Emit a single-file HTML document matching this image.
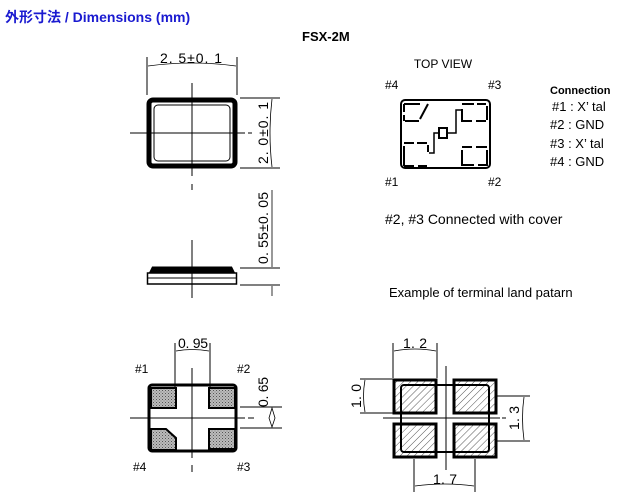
<!DOCTYPE html>
<html><head><meta charset="utf-8"><style>
html,body{margin:0;padding:0;background:#fff;}
svg{display:block;}
text{font-family:"Liberation Sans","Noto Sans CJK JP",sans-serif;fill:#000;}
</style></head><body>
<svg width="636" height="498" viewBox="0 0 636 498" xmlns="http://www.w3.org/2000/svg">
<defs>
<pattern id="dots" width="3" height="3" patternUnits="userSpaceOnUse"><rect width="3" height="3" fill="#bbb"/><rect width="1" height="1" fill="#555"/><rect x="1.5" y="1.5" width="1" height="1" fill="#777"/></pattern>
<pattern id="hatch" width="5" height="5" patternUnits="userSpaceOnUse" patternTransform="rotate(45)"><rect width="5" height="5" fill="#fff"/><line x1="0" y1="0" x2="0" y2="5" stroke="#555" stroke-width="1"/></pattern>
</defs>
<text x="5" y="22" font-size="14" font-weight="bold" style="fill:#1a1ad0">外形寸法 / Dimensions (mm)</text>
<text x="302" y="41" font-size="13" font-weight="bold">FSX-2M</text>

<g stroke="#000" fill="none">
<rect x="149" y="100" width="86" height="66" rx="4" stroke-width="5"/>
<rect x="154" y="105" width="76" height="56" rx="4" stroke-width="1"/>
<line x1="192" y1="83" x2="192" y2="176" stroke-width="1"/>
<line x1="192" y1="184" x2="192" y2="190"/>
<line x1="130" y1="133" x2="245" y2="133"/>
<line x1="248" y1="133" x2="252" y2="133"/>
<line x1="147" y1="57" x2="147" y2="95"/>
<line x1="237" y1="57" x2="237" y2="95"/>
<path d="M148 66 Q192 60 236 66" stroke-width="0.8"/>
<line x1="240" y1="98" x2="280" y2="98"/>
<line x1="240" y1="168" x2="280" y2="168"/>
<path d="M272 99 Q268 133 272 167" stroke-width="0.8"/>
<path d="M151 272 L153 268 L231 268 L233 272 Z" stroke-width="3" fill="#000"/>
<rect x="147.5" y="273" width="89" height="11" stroke-width="1.5"/>
<line x1="148" y1="278" x2="236" y2="278"/>
<line x1="192" y1="240" x2="192" y2="298"/>
<line x1="240" y1="268" x2="280" y2="268"/>
<line x1="240" y1="285" x2="280" y2="285"/>
<path d="M272 190 L272 267 M272 286 L272 296" stroke-width="0.8"/>
</g>
<text x="160" y="63" font-size="14" textLength="62">2. 5±0. 1</text>
<text transform="translate(268,133) rotate(-90)" font-size="14" text-anchor="middle" textLength="62">2. 0±0. 1</text>
<text transform="translate(268,228) rotate(-90)" font-size="14" text-anchor="middle" textLength="72">0. 55±0. 05</text>

<text x="443" y="68" font-size="12" text-anchor="middle">TOP VIEW</text>
<text x="385" y="89" font-size="12">#4</text>
<text x="488" y="89" font-size="12">#3</text>
<text x="385" y="186" font-size="12">#1</text>
<text x="488" y="186" font-size="12">#2</text>
<g stroke="#000" fill="none" stroke-width="2">
<rect x="401" y="100" width="89" height="68" rx="4"/>
<path d="M404 104 V112 M404 115 V121 M404 104 H420 M405 121 H419 M428 104 L420 119"/>
<path d="M462 104 H474 M477 104 H486 M487 106 V120 M462 109 V121 H472 M476 121 H486"/>
<path d="M404 143 H414 M417 143 H427 M428 145 V152 M404 146 V166 M404 166 H414 M418 166 H427"/>
<path d="M462 147 H472 M476 147 H487 M487 150 V166 M462 150 V165 H474 M478 165 H487"/>
<rect x="439" y="128" width="8" height="10"/>
<path d="M461 110 H456 V133 H448 M438 133 H434 V153 H429" stroke-width="1.5"/>
</g>
<text x="550" y="94" font-size="11" font-weight="bold">Connection</text>
<text x="552" y="111" font-size="13">#1 : X’ tal</text>
<text x="550" y="129" font-size="13">#2 : GND</text>
<text x="550" y="148" font-size="13">#3 : X’ tal</text>
<text x="550" y="166" font-size="13">#4 : GND</text>
<text x="385" y="224" font-size="14">#2, #3 Connected with cover</text>
<text x="389" y="297" font-size="13">Example of terminal land  patarn</text>

<g stroke="#000" fill="none">
<rect x="149" y="385" width="87" height="66" rx="3" stroke-width="3"/>
<rect x="151" y="388" width="25" height="20" fill="url(#dots)" stroke-width="2"/>
<rect x="209" y="388" width="26" height="20" fill="url(#dots)" stroke-width="2"/>
<path d="M151 429 H166 L176 438 V450 H151 Z" fill="url(#dots)" stroke-width="2"/>
<rect x="209" y="429" width="26" height="20" fill="url(#dots)" stroke-width="2"/>
<line x1="192" y1="368" x2="192" y2="458"/>
<line x1="192" y1="465" x2="192" y2="472"/>
<line x1="130" y1="418" x2="245" y2="418"/>
<line x1="248" y1="418" x2="254" y2="418"/>
<line x1="175" y1="343" x2="175" y2="387"/>
<line x1="210" y1="343" x2="210" y2="387"/>
<path d="M176 351 Q192 348 209 351" stroke-width="0.8"/>
<line x1="240" y1="407" x2="282" y2="407"/>
<line x1="240" y1="428" x2="282" y2="428"/>
<path d="M272 408 L269 418 L272 427 L275 418 Z" stroke-width="0.8"/>
</g>
<text x="178" y="348" font-size="14" textLength="30">0. 95</text>
<text transform="translate(268,392) rotate(-90)" font-size="14" text-anchor="middle" textLength="30">0. 65</text>
<text x="135" y="373" font-size="12">#1</text>
<text x="237" y="373" font-size="12">#2</text>
<text x="133" y="471" font-size="12">#4</text>
<text x="237" y="471" font-size="12">#3</text>

<g stroke="#000" fill="none">
<rect x="394" y="380" width="42" height="33" fill="url(#hatch)" stroke-width="3"/>
<rect x="454" y="380" width="42" height="33" fill="url(#hatch)" stroke-width="3"/>
<rect x="394" y="424" width="42" height="33" fill="url(#hatch)" stroke-width="3"/>
<rect x="454" y="424" width="42" height="33" fill="url(#hatch)" stroke-width="3"/>
<rect x="401" y="385" width="88" height="67" rx="3" stroke-width="2"/>
<line x1="446" y1="366" x2="446" y2="470"/>
<line x1="383" y1="418" x2="500" y2="418"/>
<line x1="502" y1="418" x2="506" y2="418"/>
<line x1="393" y1="343" x2="393" y2="378"/>
<line x1="437" y1="343" x2="437" y2="378"/>
<path d="M394 351 Q415 347 436 351" stroke-width="0.8"/>
<line x1="360" y1="379" x2="393" y2="379"/>
<line x1="360" y1="413" x2="393" y2="413"/>
<path d="M365 380 Q362 396 365 412" stroke-width="0.8"/>
<line x1="497" y1="396" x2="530" y2="396"/>
<line x1="497" y1="441" x2="530" y2="441"/>
<path d="M524 397 Q521 418 524 440" stroke-width="0.8"/>
<line x1="414" y1="459" x2="414" y2="492"/>
<line x1="475" y1="459" x2="475" y2="492"/>
<path d="M415 486 Q445 482 474 486" stroke-width="0.8"/>
</g>
<text x="403" y="348" font-size="14" textLength="24">1. 2</text>
<text transform="translate(361,396) rotate(-90)" font-size="14" text-anchor="middle" textLength="24">1. 0</text>
<text transform="translate(519,418) rotate(-90)" font-size="14" text-anchor="middle" textLength="24">1. 3</text>
<text x="433" y="484" font-size="14" textLength="24">1. 7</text>
</svg>
</body></html>
